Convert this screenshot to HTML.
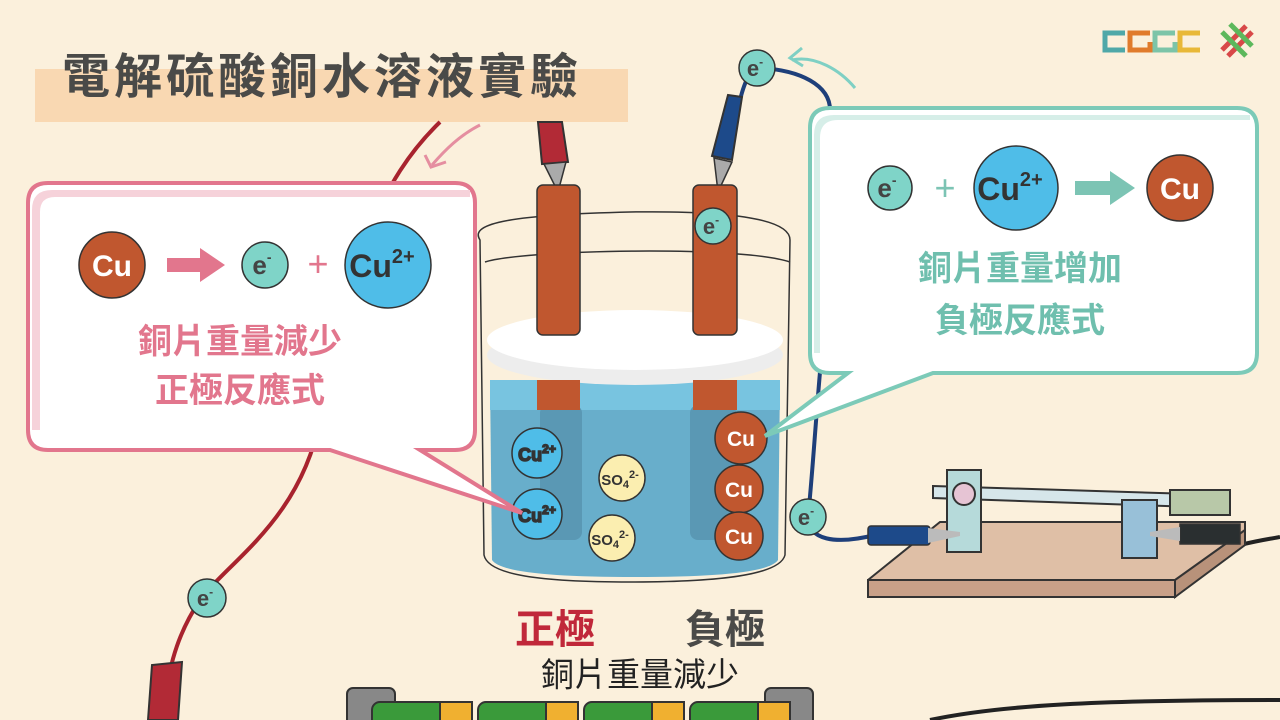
<!DOCTYPE html>
<html><head><meta charset="utf-8"><style>
html,body{margin:0;padding:0;background:#fbf0dc;}
svg{display:block}
text{font-family:"Liberation Sans","Noto Sans CJK TC",sans-serif;}
</style></head><body>
<svg width="1280" height="720" viewBox="0 0 1280 720" xmlns="http://www.w3.org/2000/svg">
<rect width="1280" height="720" fill="#fbf0dc"/>
<!-- title -->
<rect x="35" y="69" width="593" height="53" fill="#f9d8b2"/>
<text x="62" y="93" font-size="48" font-weight="bold" fill="#4a4a48" letter-spacing="4">電解硫酸銅水溶液實驗</text>
<!-- logo -->
<g stroke-width="5" fill="none">
<path d="M1125 33 H1105 V50 H1125" stroke="#4fa8a8"/>
<path d="M1150 33 H1130 V50 H1150 V42" stroke="#e07b2c"/>
<path d="M1175 33 H1155 V50 H1175 V42" stroke="#7cc4a8"/>
<path d="M1200 33 H1180 V50 H1200" stroke="#e8b838"/>
<path d="M1222 50 L1246 26 M1228 56 L1252 32" stroke="#d84848"/>
<path d="M1222 32 L1246 56 M1230 24 L1252 46" stroke="#5cb85c"/>
</g>
<!-- red wire -->
<path d="M440 122 C380 180 350 260 320 420 C300 520 230 560 200 600 C180 630 170 660 165 700" stroke="#a8232e" stroke-width="4" fill="none"/>
<path d="M148 720 L152 665 L182 662 L178 720Z" fill="#b22a36" stroke="#333" stroke-width="2"/>
<path d="M480 125 C460 135 445 150 432 165" stroke="#e58ea0" stroke-width="3" fill="none"/>
<path d="M425 155 L431 167 L446 162" stroke="#e58ea0" stroke-width="3" fill="none"/>
<!-- blue wire -->
<path d="M740 100 C745 80 750 70 760 68 C800 70 830 85 830 110 M820 372 C815 430 812 480 808 517 C808 540 835 545 875 535" stroke="#1e3f7a" stroke-width="4" fill="none"/>
<path d="M792 60 C815 55 840 70 855 88" stroke="#7fd0c4" stroke-width="3" fill="none"/>
<path d="M802 48 L790 58 L803 66" stroke="#7fd0c4" stroke-width="3" fill="none"/>
<path d="M1240 545 C1260 540 1275 538 1280 537" stroke="#222" stroke-width="4" fill="none"/>
<path d="M930 720 C1000 705 1100 700 1280 700" stroke="#222" stroke-width="4" fill="none"/>
<!-- clips at top -->
<path d="M538 122 L562 122 L568 162 L542 164Z" fill="#b22a36" stroke="#333" stroke-width="2"/>
<path d="M544 164 L566 162 L558 192Z" fill="#aaa" stroke="#333" stroke-width="1.5"/>
<path d="M728 95 L742 97 L732 160 L712 156Z" fill="#1d4a8a" stroke="#333" stroke-width="2"/>
<path d="M714 158 L732 162 L718 192Z" fill="#aaa" stroke="#333" stroke-width="1.5"/>
<!-- beaker -->
<path d="M480 240 C470 225 500 215 630 212 C760 210 790 225 790 240 L785 555 C780 575 720 582 630 582 C540 582 488 575 484 555 Z" fill="none" stroke="#333" stroke-width="1.5"/>
<path d="M485 262 C520 250 740 245 790 262" fill="none" stroke="#333" stroke-width="1.5"/>
<!-- liquid -->
<path d="M490 380 L780 380 L778 560 C770 572 720 577 635 577 C550 577 500 572 492 560 Z" fill="#68aecb"/>
<rect x="490" y="380" width="290" height="30" fill="#78c4e0"/>
<rect x="540" y="405" width="42" height="135" rx="8" fill="#5a98b4"/>
<rect x="690" y="405" width="46" height="135" rx="8" fill="#5a98b4"/>
<!-- lid -->
<ellipse cx="635" cy="355" rx="148" ry="30" fill="#ededed"/>
<ellipse cx="635" cy="340" rx="148" ry="30" fill="#ffffff"/>
<!-- electrodes -->
<rect x="537" y="185" width="43" height="150" rx="6" fill="#c0572f" stroke="#333" stroke-width="1.5"/>
<rect x="537" y="380" width="43" height="30" fill="#c0572f"/>
<rect x="693" y="185" width="44" height="150" rx="6" fill="#c0572f" stroke="#333" stroke-width="1.5"/>
<rect x="693" y="380" width="44" height="30" fill="#c0572f"/>
<!-- ions -->
<g stroke="#333" stroke-width="1.5" font-weight="bold" text-anchor="middle">
<circle cx="537" cy="453" r="25" fill="#4fbde8"/><text x="537" y="461" font-size="18" fill="#333">Cu<tspan font-size="12" dy="-8">2+</tspan></text>
<circle cx="537" cy="514" r="25" fill="#4fbde8"/><text x="537" y="522" font-size="18" fill="#333">Cu<tspan font-size="12" dy="-8">2+</tspan></text>
<circle cx="622" cy="478" r="23" fill="#fbeeb0"/><text x="620" y="485" font-size="15" fill="#333" stroke="none">SO<tspan font-size="11" dy="3">4</tspan><tspan font-size="11" dy="-10">2-</tspan></text>
<circle cx="612" cy="538" r="23" fill="#fbeeb0"/><text x="610" y="545" font-size="15" fill="#333" stroke="none">SO<tspan font-size="11" dy="3">4</tspan><tspan font-size="11" dy="-10">2-</tspan></text>
<circle cx="741" cy="438" r="26" fill="#c0572f"/><text x="741" y="446" font-size="21" fill="#fff" stroke="none">Cu</text>
<circle cx="739" cy="489" r="24" fill="#c0572f"/><text x="739" y="497" font-size="21" fill="#fff" stroke="none">Cu</text>
<circle cx="739" cy="536" r="24" fill="#c0572f"/><text x="739" y="544" font-size="21" fill="#fff" stroke="none">Cu</text>
</g>
<!-- electron markers -->
<g stroke="#333" stroke-width="1.5" font-weight="bold" text-anchor="middle">
<circle cx="757" cy="68" r="18" fill="#7fd4c8"/><text x="755" y="76" font-size="22" fill="#444" stroke="none">e<tspan font-size="12" dy="-10">-</tspan></text>
<circle cx="713" cy="226" r="18" fill="#7fd4c8"/><text x="711" y="234" font-size="22" fill="#444" stroke="none">e<tspan font-size="12" dy="-10">-</tspan></text>
<circle cx="808" cy="517" r="18" fill="#7fd4c8"/><text x="806" y="525" font-size="22" fill="#444" stroke="none">e<tspan font-size="12" dy="-10">-</tspan></text>
<circle cx="207" cy="598" r="19" fill="#7fd4c8"/><text x="205" y="606" font-size="22" fill="#444" stroke="none">e<tspan font-size="12" dy="-10">-</tspan></text>
</g>
<!-- pink box -->
<path d="M48 183 H455 Q475 183 475 203 V430 Q475 450 455 450 H420 L522 513 L330 450 H48 Q28 450 28 430 V203 Q28 183 48 183Z" fill="#fff" stroke="#e2768d" stroke-width="4"/>
<path d="M32 430 V210 Q32 190 52 190 H470 V197 H55 Q40 197 40 212 V430Z" fill="#f6d2da"/>
<g stroke="#333" stroke-width="1.5" font-weight="bold" text-anchor="middle">
<circle cx="112" cy="265" r="33" fill="#c0572f"/><text x="112" y="276" font-size="30" fill="#fff" stroke="none">Cu</text>
<circle cx="265" cy="265" r="23" fill="#7fd4c8"/><text x="262" y="274" font-size="26" fill="#444" stroke="none">e<tspan font-size="14" dy="-12">-</tspan></text>
<circle cx="388" cy="265" r="43" fill="#4fbde8"/><text x="382" y="277" font-size="32" fill="#333" stroke="none">Cu<tspan font-size="20" dy="-14">2+</tspan></text>
</g>
<path d="M167 258 H200 V248 L225 265 L200 282 V272 H167Z" fill="#e2768d"/>
<text x="318" y="276" font-size="36" fill="#e2768d" text-anchor="middle">+</text>
<text x="240" y="353" font-size="34" font-weight="bold" fill="#e2768d" text-anchor="middle">銅片重量減少</text>
<text x="240" y="402" font-size="34" font-weight="bold" fill="#e2768d" text-anchor="middle">正極反應式</text>
<!-- teal box -->
<path d="M830 108 H1237 Q1257 108 1257 128 V353 Q1257 373 1237 373 H933 L765 436 L848 373 H830 Q810 373 810 353 V128 Q810 108 830 108Z" fill="#fff" stroke="#7ccab8" stroke-width="4"/>
<path d="M814 353 V135 Q814 115 834 115 H1250 V120 H838 Q820 120 820 138 V353Z" fill="#d6eee8"/>
<g stroke="#333" stroke-width="1.5" font-weight="bold" text-anchor="middle">
<circle cx="890" cy="188" r="22" fill="#7fd4c8"/><text x="887" y="197" font-size="26" fill="#444" stroke="none">e<tspan font-size="14" dy="-12">-</tspan></text>
<circle cx="1016" cy="188" r="42" fill="#4fbde8"/><text x="1010" y="200" font-size="32" fill="#333" stroke="none">Cu<tspan font-size="20" dy="-14">2+</tspan></text>
<circle cx="1180" cy="188" r="33" fill="#c0572f"/><text x="1180" y="199" font-size="30" fill="#fff" stroke="none">Cu</text>
</g>
<path d="M1043 0" />
<path d="M1075 181 H1110 V171 L1135 188 L1110 205 V195 H1075Z" fill="#7cc4b4"/>
<text x="945" y="200" font-size="36" fill="#7cc4b4" text-anchor="middle">+</text>
<text x="1020" y="280" font-size="34" font-weight="bold" fill="#6fbfae" text-anchor="middle">銅片重量增加</text>
<text x="1020" y="332" font-size="34" font-weight="bold" fill="#6fbfae" text-anchor="middle">負極反應式</text>
<!-- apparatus -->
<path d="M868 580 L940 522 L1245 522 L1245 530 L1175 597 L868 597Z" fill="#dfbfa6" stroke="#333" stroke-width="2"/>
<path d="M868 580 H1175 V597 H868Z" fill="#c8a088" stroke="#333" stroke-width="2"/>
<path d="M1175 580 L1245 530 V545 L1175 597Z" fill="#b8927a" stroke="#333" stroke-width="2"/>
<path d="M933 486 L1225 495 L1225 508 L933 498Z" fill="#d6e6ea" stroke="#333" stroke-width="2"/>
<rect x="1170" y="490" width="60" height="25" fill="#b8c8a8" stroke="#333" stroke-width="2"/>
<rect x="947" y="470" width="34" height="82" fill="#b6dada" stroke="#333" stroke-width="2"/>
<circle cx="964" cy="494" r="11" fill="#e6c4d4" stroke="#333" stroke-width="2"/>
<rect x="1122" y="500" width="35" height="58" fill="#98c0d8" stroke="#333" stroke-width="2"/>
<rect x="868" y="526" width="62" height="19" rx="3" fill="#1d4a8a" stroke="#333" stroke-width="1.5"/>
<path d="M928 528 L960 532 L960 536 L928 543Z" fill="#bbb"/>
<rect x="1180" y="524" width="60" height="20" fill="#2a2f30" stroke="#333" stroke-width="1.5"/>
<path d="M1180 527 L1150 532 L1150 536 L1180 541Z" fill="#bbb"/>
<!-- bottom labels -->
<text x="555" y="643" font-size="40" font-weight="bold" fill="#c0283a" text-anchor="middle">正極</text>
<text x="725" y="643" font-size="40" font-weight="bold" fill="#4a4a48" text-anchor="middle">負極</text>
<text x="640" y="686" font-size="33" fill="#222" text-anchor="middle">銅片重量減少</text>
<!-- battery -->
<rect x="347" y="688" width="48" height="40" rx="6" fill="#888" stroke="#333" stroke-width="2"/>
<rect x="765" y="688" width="48" height="40" rx="6" fill="#888" stroke="#333" stroke-width="2"/>
<g stroke="#333" stroke-width="2">
<rect x="372" y="702" width="100" height="30" rx="8" fill="#3a9a3a"/><rect x="440" y="702" width="32" height="30" fill="#f0b030"/>
<rect x="478" y="702" width="100" height="30" rx="8" fill="#3a9a3a"/><rect x="546" y="702" width="32" height="30" fill="#f0b030"/>
<rect x="584" y="702" width="100" height="30" rx="8" fill="#3a9a3a"/><rect x="652" y="702" width="32" height="30" fill="#f0b030"/>
<rect x="690" y="702" width="100" height="30" rx="8" fill="#3a9a3a"/><rect x="758" y="702" width="32" height="30" fill="#f0b030"/>
</g>
</svg>
</body></html>
